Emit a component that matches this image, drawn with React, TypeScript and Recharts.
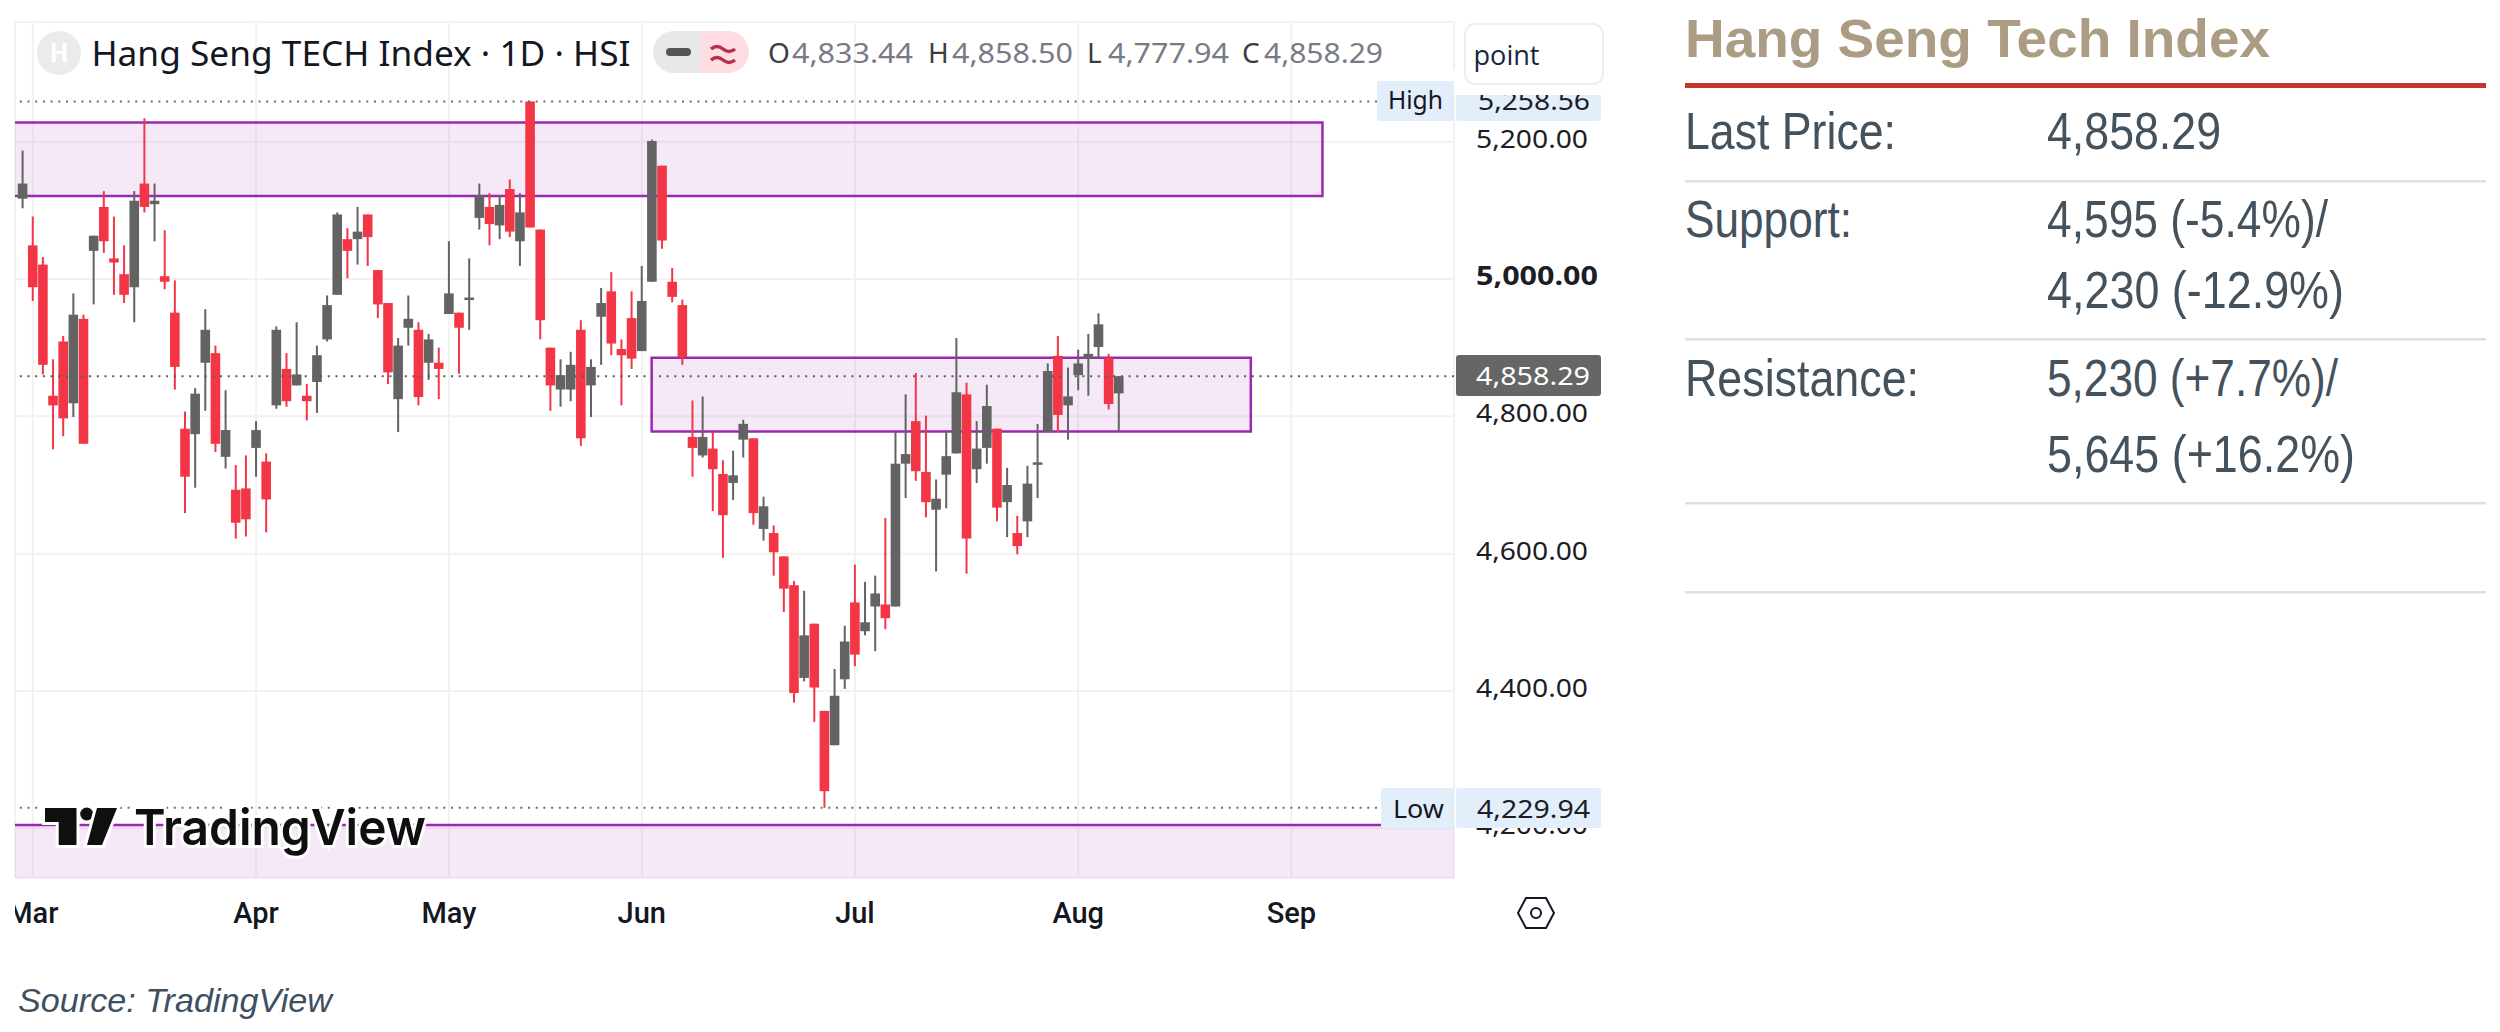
import React from 'react';
import {
  ComposedChart,
  Bar,
  XAxis,
  YAxis,
  CartesianGrid,
  ReferenceArea,
  ReferenceLine,
} from 'recharts';

// Daily candles, oldest first
const opens = [
  5117, 5049, 5021, 4830, 4909, 4819, 4942, 5041, 5105, 5030, 5007, 4988, 5139, 5109, 5004, 4951, 4782, 4774, 4878, 4892,
  4741, 4693, 4695, 4754, 4734, 4816, 4869, 4845, 4830, 4850, 4912, 4977, 5058, 5058, 5094, 5013, 4965, 4825, 4929, 4926,
  4878, 4878, 4949, 4951, 4971, 5089, 5105, 5078, 5131, 5055, 5258.56, 5072, 4900, 4839, 4839, 4926, 4845, 4945, 4982, 4898,
  4943, 4895, 4996, 5165, 4996, 4962, 4770, 4743, 4753, 4716, 4703, 4766, 4768, 4636, 4630, 4596, 4554, 4419, 4498, 4371,
  4321, 4417, 4529, 4487, 4523, 4526, 4523, 4731, 4793, 4719, 4664, 4715, 4746, 4832, 4723, 4754, 4782, 4675, 4630, 4647,
  4732, 4777, 4888, 4816, 4860, 4884, 4901, 4885, 4833.44,
];
const highs = [
  5187, 5091, 5032, 4883, 4917, 4979, 4948, 5063, 5128, 5091, 5049, 5128, 5234, 5139, 5071, 4998, 4807, 4841, 4956, 4903,
  4838, 4729, 4743, 4793, 4746, 4931, 4892, 4937, 4847, 4903, 4976, 5097, 5074, 5105, 5094, 5013, 4965, 4914, 4976, 4937,
  4920, 4900, 5055, 4951, 5030, 5139, 5125, 5122, 5145, 5125, 5258.56, 5072, 4900, 4883, 4894, 4940, 4883, 4987, 5010, 4912,
  4982, 5019, 5203, 5165, 5016, 4970, 4823, 4829, 4778, 4736, 4750, 4795, 4768, 4683, 4641, 4596, 4560, 4546, 4498, 4371,
  4432, 4495, 4584, 4559, 4568, 4652, 4777, 4832, 4863, 4801, 4708, 4779, 4914, 4849, 4793, 4846, 4782, 4725, 4655, 4728,
  4789, 4877, 4917, 4871, 4897, 4920, 4950, 4891, 4858.5,
];
const lows = [
  5103, 4968, 4861, 4752, 4771, 4799, 4760, 4963, 5038, 4977, 4965, 4937, 5097, 5055, 4985, 4839, 4659, 4696, 4808, 4748,
  4724, 4622, 4625, 4712, 4631, 4811, 4814, 4845, 4794, 4805, 4909, 4977, 5001, 5021, 5019, 4943, 4847, 4777, 4903, 4816,
  4853, 4825, 4949, 4862, 4926, 5072, 5049, 5058, 5061, 5019, 5075, 4912, 4808, 4814, 4822, 4757, 4799, 4875, 4889, 4816,
  4869, 4895, 4996, 5044, 4966, 4875, 4712, 4740, 4662, 4594, 4678, 4740, 4642, 4619, 4568, 4515, 4383, 4414, 4355, 4229.94,
  4321, 4403, 4436, 4481, 4458, 4490, 4523, 4681, 4706, 4653, 4574, 4666, 4746, 4571, 4703, 4731, 4647, 4624, 4599, 4624,
  4681, 4777, 4777, 4766, 4838, 4830, 4885, 4810, 4777.94,
];
const closes = [
  5139, 4988, 4875, 4816, 4797, 4948, 4760, 5063, 5055, 5024, 4977, 5114, 5105, 5114, 4996, 4872, 4712, 4833, 4926, 4760,
  4780, 4645, 4650, 4780, 4679, 4926, 4822, 4861, 4822, 4889, 4962, 5094, 5041, 5069, 5061, 4963, 4864, 4903, 4942, 4828,
  4912, 4869, 4979, 4929, 4973, 5122, 5080, 5108, 5069, 5097, 5075, 4940, 4845, 4860, 4875, 4768, 4872, 4965, 4906, 4889,
  4884, 4968, 5201, 5056, 4974, 4886, 4754, 4770, 4723, 4656, 4714, 4789, 4659, 4669, 4602, 4549, 4397, 4481, 4405, 4254,
  4393, 4472, 4453, 4500, 4542, 4506, 4731, 4745, 4720, 4675, 4680, 4742, 4835, 4622, 4753, 4815, 4667, 4700, 4611, 4702,
  4733, 4866, 4802, 4829, 4877, 4891, 4934, 4818, 4858.29,
];

// x ticks are bar numbers, the month label sits on the first bar of the month
const monthTicks = [1, 23, 42, 61, 82, 104, 125];
const monthLabels = ['Mar', 'Apr', 'May', 'Jun', 'Jul', 'Aug', 'Sep'];
const priceTicks = [5200, 5000, 4800, 4600, 4400, 4200];

const highPrice = 5258.56;
const lowPrice = 4229.94;
const lastPrice = 4858.29;

// purple zones: [first bar, last bar, top price, bottom price]
const zones = [
  [-20, 128.06, 5228, 5121],
  [61.97, 121, 4885.4, 4778],
  [-20, 300, 4204.8, 3000],
];

const UP = '#636363';
const DOWN = '#F23645';
const PURPLE = '#9C27B0';
const AXIS_FONT = '"Noto Sans", sans-serif';
const PANEL_FONT = '"Liberation Sans Narrow", "Liberation Sans", sans-serif';
const PANEL_TEXT = '#44525E';

const chartData = opens.map((open, i) => ({
  bar: i,
  open,
  close: closes[i],
  range: [lows[i], highs[i]],
}));

const Candle = (props: any) => {
  const { x, y, width, height, payload } = props;
  const [low, high] = payload.range;
  const perUnit = height / (high - low);
  const top = Math.max(payload.open, payload.close);
  const bottom = Math.min(payload.open, payload.close);
  const color = payload.close >= payload.open ? UP : DOWN;
  const cx = x + width / 2;
  return (
    <g>
      <rect x={cx - 1} y={y} width={2} height={height} fill={color} />
      <rect
        x={cx - 4.8}
        y={y + (high - top) * perUnit}
        width={9.6}
        height={Math.max((top - bottom) * perUnit, 2.5)}
        fill={color}
      />
    </g>
  );
};

const MonthTick = ({ x, payload }: any) => (
  <text x={x} y={923} textAnchor="middle" fontFamily="Roboto" fontWeight={500} fontSize={29} fill="#131722">
    {monthLabels[monthTicks.indexOf(payload.value)]}
  </text>
);

const PriceTick = ({ y, payload }: any) => (
  <text
    x={1476}
    y={y + 6}
    fontFamily={AXIS_FONT}
    fontSize={26}
    fontWeight={payload.value === 5000 ? 700 : 400}
    fill="#1B1E26"
    textLength={payload.value === 5000 ? 122 : 112}
    lengthAdjust="spacingAndGlyphs"
  >
    {payload.value.toLocaleString('en-US', { minimumFractionDigits: 2 })}
  </text>
);

const PanelText = ({ x, y, w, children }: any) => (
  <text x={x} y={y} fontFamily={PANEL_FONT} fontSize={52} fill={PANEL_TEXT} textLength={w} lengthAdjust="spacingAndGlyphs">
    {children}
  </text>
);

const Ohlc = ({ x, vx, label, value, w }: any) => (
  <>
    <text x={x} y={63} fontFamily={AXIS_FONT} fontSize={28} fill="#3a3d46">{label}</text>
    <text x={vx} y={63} fontFamily={AXIS_FONT} fontSize={28} fill="#787B86" textLength={w} lengthAdjust="spacingAndGlyphs">{value}</text>
  </>
);

const Overlay = () => (
  <svg width={2500} height={1032} style={{ position: 'absolute', left: 0, top: 0, pointerEvents: 'none' }}>
    {/* left edge hides the start of Mar */}
    <rect x={0} y={885} width={15} height={60} fill="#fff" />

    {/* chart header */}
    <circle cx={59} cy={53} r={22} fill="#EBEBEB" />
    <text x={59} y={62} textAnchor="middle" fontFamily="Roboto" fontWeight={700} fontSize={25} fill="#fff">H</text>
    <text x={91.5} y={66} fontFamily="Noto Sans" fontSize={35} fill="#131722" textLength={539} lengthAdjust="spacingAndGlyphs">
      Hang Seng TECH Index · 1D · HSI
    </text>
    <path d="M674 31 H701 V73 H674 A21 21 0 0 1 674 31 Z" fill="#E8E8E8" />
    <path d="M701 31 H728 A21 21 0 0 1 728 73 H701 Z" fill="#FFDDE2" />
    <rect x={666} y={48} width={25} height={8} rx={4} fill="#555" />
    <path d="M711 49 q6 -5 12 0 t12 0 M711 60 q6 -5 12 0 t12 0" fill="none" stroke="#B5304F" strokeWidth={3.5} />
    <Ohlc x={768} vx={792} label="O" value="4,833.44" w={121} />
    <Ohlc x={928} vx={952} label="H" value="4,858.50" w={121} />
    <Ohlc x={1087} vx={1108} label="L" value="4,777.94" w={121} />
    <Ohlc x={1242} vx={1264} label="C" value="4,858.29" w={119} />

    {/* point box, sits above the High label */}
    <rect x={1440} y={70} width={170} height={25} fill="#fff" />
    <rect x={1465} y={24} width={138} height={60} rx={10} fill="#fff" stroke="#EEEEEE" strokeWidth={2} />
    <text x={1473.5} y={65} fontFamily="Open Sans" fontSize={27} fill="#16263C" textLength={66} lengthAdjust="spacingAndGlyphs">point</text>

    {/* High / Low / last price labels */}
    <rect x={1377} y={81} width={77} height={40} rx={2} fill="#E3EEFB" />
    <text x={1388} y={109} fontFamily="Noto Sans" fontSize={25} fill="#131722" textLength={55} lengthAdjust="spacingAndGlyphs">High</text>
    <clipPath id="highClip"><rect x={1456} y={95} width={145} height={26} /></clipPath>
    <g clipPath="url(#highClip)">
      <rect x={1456} y={90} width={145} height={31} rx={3} fill="#E3EEFB" />
      <text x={1478} y={109.5} fontFamily={AXIS_FONT} fontSize={26} fill="#1B1E26" textLength={112} lengthAdjust="spacingAndGlyphs">5,258.56</text>
    </g>

    <rect x={1456} y={355} width={145} height={41} rx={3} fill="#666666" />
    <text x={1476} y={385} fontFamily={AXIS_FONT} fontSize={26} fill="#fff" textLength={114} lengthAdjust="spacingAndGlyphs">4,858.29</text>

    <rect x={1381} y={788} width={73} height={40} rx={2} fill="#E3EEFB" />
    <text x={1393} y={818} fontFamily="Noto Sans" fontSize={25} fill="#131722" textLength={51} lengthAdjust="spacingAndGlyphs">Low</text>
    <rect x={1456} y={788} width={145} height={40} rx={3} fill="#E3EEFB" />
    <text x={1477} y={818} fontFamily={AXIS_FONT} fontSize={26} fill="#1B1E26" textLength={113} lengthAdjust="spacingAndGlyphs">4,229.94</text>

    {/* settings hexagon */}
    <path d="M1526 898 H1546 L1554 913 L1546 928 H1526 L1518 913 Z" fill="none" stroke="#131722" strokeWidth={2} />
    <circle cx={1536} cy={913} r={5} fill="none" stroke="#131722" strokeWidth={2} />

    {/* TradingView logo */}
    <g stroke="#fff" strokeWidth={6} style={{ paintOrder: 'stroke' }} fill="#0F0F0F">
      <path d="M45 808 H76.5 V845 H58.7 V822 H45 Z" />
      <circle cx={86.7} cy={814} r={6.5} />
      <path d="M97 808 H117 L102 845 H87 Z" />
      <text x={134} y={845} fontFamily="Inter" fontWeight={600} fontSize={50} textLength={292} lengthAdjust="spacingAndGlyphs">TradingView</text>
    </g>

    <text x={18} y={1011.5} fontFamily='"Liberation Sans", sans-serif' fontStyle="italic" fontSize={33} fill="#3E5060" textLength={314} lengthAdjust="spacingAndGlyphs">
      Source: TradingView
    </text>

    {/* levels panel */}
    <text x={1685} y={57} fontFamily='"Liberation Sans", sans-serif' fontWeight={700} fontSize={54} fill="#AD9C84" textLength={585} lengthAdjust="spacingAndGlyphs">
      Hang Seng Tech Index
    </text>
    <rect x={1685} y={83} width={801} height={5} fill="#C8352F" />
    <PanelText x={1685} y={148.5} w={211}>Last Price:</PanelText>
    <PanelText x={2047} y={148.5} w={174}>4,858.29</PanelText>
    <rect x={1685} y={180} width={801} height={2.5} fill="#DDE1E5" />
    <PanelText x={1685} y={237} w={167}>Support:</PanelText>
    <PanelText x={2047} y={237} w={281}>4,595 (-5.4%)/</PanelText>
    <PanelText x={2047} y={308} w={297}>4,230 (-12.9%)</PanelText>
    <rect x={1685} y={338} width={801} height={2.5} fill="#DDE1E5" />
    <PanelText x={1685} y={396} w={234}>Resistance:</PanelText>
    <PanelText x={2047} y={396} w={291}>5,230 (+7.7%)/</PanelText>
    <PanelText x={2047} y={471.5} w={308}>5,645 (+16.2%)</PanelText>
    <rect x={1685} y={502} width={801} height={2.5} fill="#DDE1E5" />
    <rect x={1685} y={591} width={801} height={2.5} fill="#DDE1E5" />
  </svg>
);

export default function App() {
  return (
    <div style={{ position: 'absolute', left: 0, top: 0, width: 2500, height: 1032, background: '#fff', overflow: 'hidden' }}>
      <ComposedChart
        width={1600}
        height={940}
        data={chartData}
        margin={{ top: 22, left: 15, right: 0, bottom: 0 }}
        barGap={0}
      >
        <CartesianGrid stroke="#F2F2F2" strokeWidth={2} />
        <XAxis
          dataKey="bar"
          type="number"
          domain={[-0.756, 141.02]}
          ticks={monthTicks}
          interval={0}
          height={62}
          axisLine={false}
          tickLine={false}
          allowDataOverflow
          tick={<MonthTick />}
        />
        <YAxis
          orientation="right"
          type="number"
          domain={[4127.6, 5374.3]}
          ticks={priceTicks}
          interval={0}
          width={146}
          axisLine={false}
          tickLine={false}
          allowDataOverflow
          tick={<PriceTick />}
        />
        {zones.map((z, i) => (
          <ReferenceArea
            key={i}
            x1={z[0]}
            x2={z[1]}
            y1={z[2]}
            y2={z[3]}
            ifOverflow="hidden"
            fill={PURPLE}
            fillOpacity={0.1}
            stroke={PURPLE}
            strokeWidth={2.5}
          />
        ))}
        <ReferenceLine y={highPrice} stroke="#6b6b6b" strokeWidth={2} strokeDasharray="2 5.7" />
        <ReferenceLine y={lastPrice} stroke="#5a5a5a" strokeWidth={2} strokeDasharray="2 5.7" />
        <ReferenceLine y={lowPrice} stroke="#6b6b6b" strokeWidth={2} strokeDasharray="2 5.7" />
        <Bar dataKey="range" barSize={10} shape={<Candle />} isAnimationActive={false} />
      </ComposedChart>
      <Overlay />
    </div>
  );
}
